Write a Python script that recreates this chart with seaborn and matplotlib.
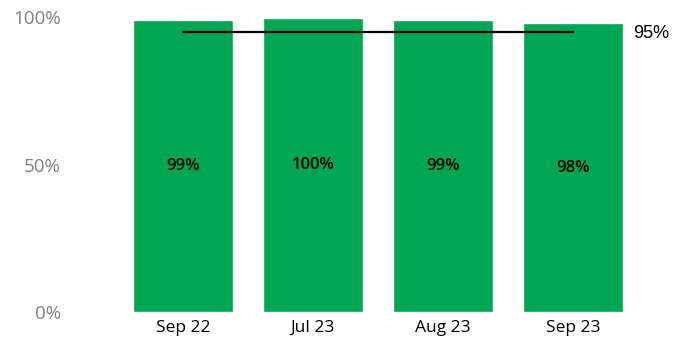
import matplotlib
matplotlib.use("Agg")
import matplotlib.pyplot as plt
import seaborn as sns
import pandas as pd

months = ["Sep 22", "Jul 23", "Aug 23", "Sep 23"]
scores = [0.99, 1.00, 0.99, 0.98]
value_labels = ["99%", "100%", "99%", "98%"]
target = 0.95
target_label = "95%"
y_ticks = [0.0, 0.5, 1.0]
y_tick_labels = ["0%", "50%", "100%"]

sns.set_theme(style="white")
plt.rcParams["font.family"] = ["Open Sans", "DejaVu Sans"]

df = pd.DataFrame({"month": months, "score": scores})

fig = plt.figure(figsize=(6.79, 3.47), dpi=100)
ax = fig.add_axes([118 / 679, 1 - 312 / 347, (638 - 118) / 679, (312 - 17.5) / 347])

sns.barplot(data=df, x="month", y="score", color="#00A651", saturation=1,
            width=0.77, ax=ax)

# value labels halfway up each bar
for i, (v, lab) in enumerate(zip(scores, value_labels)):
    ax.text(i, v / 2, lab, ha="center", va="center", fontsize=12,
            fontweight="semibold", color="black")

# target line from first to last bar centre
ax.plot([0, len(months) - 1], [target, target], color="black", lw=1.6)
ax.text(3.46, target - 0.005, target_label, ha="left", va="center",
        fontsize=13, color="black", family=["Liberation Sans"], clip_on=False)

ax.set_xlim(-0.5, 3.5)
ax.set_ylim(0, 1.0)
ax.set_yticks(y_ticks)
ax.set_yticklabels(y_tick_labels, color="#7f7f7f", fontsize=13.5)
ax.tick_params(axis="y", length=0, pad=41)
ax.tick_params(axis="x", length=0, labelsize=12.5, pad=6, labelcolor="black")
ax.set_xlabel("")
ax.set_ylabel("")
sns.despine(ax=ax, left=True, bottom=True)

fig.savefig("out.png", dpi=100)
